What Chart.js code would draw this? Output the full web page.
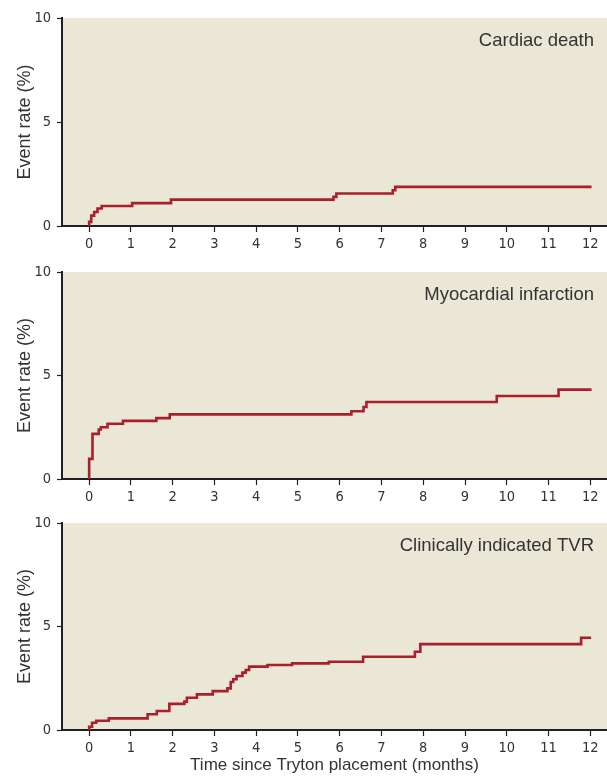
<!DOCTYPE html>
<html>
<head>
<meta charset="utf-8">
<script src="https://cdn.jsdelivr.net/npm/chart.js@4"></script>
<style>
  html, body { margin: 0; padding: 0; background: #fff; }
  #wrap { position: relative; width: 607px; height: 776px; }
  .panel { position: absolute; left: 0; width: 607px; }
</style>
</head>
<body>
<div id="wrap">
  <div class="panel" style="top:0;height:255px"><canvas id="cd-chart"></canvas></div>
  <div class="panel" style="top:255px;height:250px"><canvas id="mi-chart"></canvas></div>
  <div class="panel" style="top:505px;height:271px"><canvas id="tvr-chart"></canvas></div>
</div>
<script>
const xTicks = [0, 1, 2, 3, 4, 5, 6, 7, 8, 9, 10, 11, 12];
const yTicks = [0, 5, 10];

// Kaplan-Meier style steps: months and cumulative event rate (%)
const cardiacMonths = [0, 0, 0.05, 0.12, 0.2, 0.3, 1.03, 1.96, 5.85, 5.92, 7.27, 7.33, 12.03];
const cardiacRates  = [0, 0.2, 0.5, 0.67, 0.84, 0.96, 1.1, 1.27, 1.4, 1.56, 1.72, 1.88, 1.88];

const miMonths = [0, 0, 0.08, 0.23, 0.28, 0.44, 0.81, 1.61, 1.93, 6.28, 6.57, 6.64, 9.76, 11.24, 12.03];
const miRates  = [0, 0.97, 2.18, 2.39, 2.5, 2.67, 2.81, 2.94, 3.12, 3.27, 3.48, 3.72, 4.01, 4.32, 4.32];

const tvrMonths = [0, 0, 0.07, 0.17, 0.47, 1.4, 1.62, 1.92, 2.28, 2.34, 2.58, 2.96, 3.31, 3.39, 3.45, 3.53, 3.67, 3.75, 3.83, 4.27, 4.86, 5.74, 6.56, 7.8, 7.93, 11.78, 12.02];
const tvrRates  = [0, 0.16, 0.35, 0.45, 0.56, 0.76, 0.92, 1.26, 1.37, 1.56, 1.72, 1.88, 2.01, 2.32, 2.45, 2.61, 2.77, 2.9, 3.06, 3.14, 3.22, 3.3, 3.54, 3.78, 4.15, 4.46, 4.46];

const AXIS = '#231f20';
const LINE = '#a91f2b';
const PANEL_BG = '#ebe7d6';
const NARROW = '"Liberation Sans Narrow", "DejaVu Sans Condensed", sans-serif';
const SANS = '"Liberation Sans", Arial, sans-serif';

const panelDecor = {
  id: 'panelDecor',
  beforeDraw(chart) {
    const { ctx, chartArea: a } = chart;
    ctx.save();
    ctx.fillStyle = PANEL_BG;
    ctx.fillRect(a.left, a.top, a.right - a.left, a.bottom - a.top);
    ctx.restore();
  },
  afterDraw(chart, args, opts) {
    const { ctx, chartArea: a } = chart;
    ctx.save();
    ctx.fillStyle = '#333';
    ctx.font = '18.5px ' + SANS;
    ctx.textAlign = 'right';
    ctx.textBaseline = 'alphabetic';
    ctx.fillText(opts.label, a.right - 13, a.top + 28);
    ctx.restore();
  }
};

function toPoints(xs, ys) {
  return xs.map((x, i) => ({ x, y: ys[i] }));
}

function makePanel(id, label, months, rates, layout) {
  const xScale = {
    type: 'linear',
    min: -0.65,
    max: 12.4,
    afterBuildTicks: s => { s.ticks = xTicks.map(v => ({ value: v })); },
    afterFit: s => { s.height = layout.xHeight; },
    border: { display: true, color: AXIS, width: 2 },
    grid: { display: true, drawOnChartArea: false, drawTicks: true, tickLength: 6, tickColor: AXIS, tickWidth: 1.2 },
    ticks: { color: '#333', padding: 4, font: { family: NARROW, size: 14.5 }, maxRotation: 0 },
    title: layout.xTitle ? {
      display: true, text: 'Time since Tryton placement (months)', color: '#333',
      font: { family: SANS, size: 17 }, padding: { top: 0, bottom: 0 }
    } : { display: false }
  };
  return new Chart(document.getElementById(id), {
    type: 'line',
    data: {
      datasets: [{
        label,
        data: toPoints(months, rates),
        stepped: 'before',
        borderColor: LINE,
        borderWidth: 2.6,
        pointRadius: 0,
        fill: false
      }]
    },
    options: {
      responsive: true,
      maintainAspectRatio: false,
      animation: false,
      layout: { padding: { top: layout.top, left: 0, right: 0, bottom: 0 } },
      plugins: { legend: { display: false }, tooltip: { enabled: false }, panelDecor: { label } },
      scales: {
        x: xScale,
        y: {
          min: 0,
          max: 10,
          afterBuildTicks: s => { s.ticks = yTicks.map(v => ({ value: v })); },
          afterFit: s => { s.width = 62; },
          border: { display: true, color: AXIS, width: 2 },
          grid: { display: true, drawOnChartArea: false, drawTicks: true, tickLength: 5, tickColor: AXIS, tickWidth: 1.2 },
          ticks: { color: '#333', padding: 6, font: { family: NARROW, size: 14.5 } },
          title: { display: true, text: 'Event rate (%)', color: '#333', font: { family: SANS, size: 18 }, padding: { top: 14, bottom: 0 } }
        }
      }
    },
    plugins: [panelDecor]
  });
}

makePanel('cd-chart', 'Cardiac death', cardiacMonths, cardiacRates, { top: 18, xHeight: 29 });
makePanel('mi-chart', 'Myocardial infarction', miMonths, miRates, { top: 17, xHeight: 26 });
makePanel('tvr-chart', 'Clinically indicated TVR', tvrMonths, tvrRates, { top: 18, xHeight: 46, xTitle: true });
</script>
</body>
</html>
